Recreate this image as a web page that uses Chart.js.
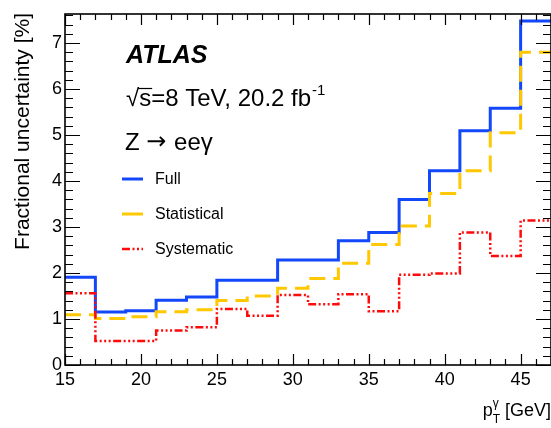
<!DOCTYPE html>
<html>
<head>
<meta charset="utf-8">
<script src="https://cdn.jsdelivr.net/npm/chart.js@4"></script>
<style>
  html, body { margin: 0; padding: 0; background: #fff; }
  canvas { display: block; }
</style>
</head>
<body>
<canvas id="unc" width="551" height="428"></canvas>
<script>
// bin edges of photon pT [GeV] and fractional uncertainties [%] per bin
const binEdges = [15, 17, 19, 21, 23, 25, 27, 29, 31, 33, 35, 37, 39, 41, 43, 45, 47];
const fullUnc = [1.91, 1.15, 1.18, 1.41, 1.48, 1.84, 1.84, 2.28, 2.28, 2.70, 2.88, 3.60, 4.22, 5.09, 5.58, 7.48];
const statUnc = [1.09, 1.01, 1.05, 1.16, 1.20, 1.40, 1.50, 1.67, 1.88, 2.21, 2.62, 3.02, 3.73, 4.22, 5.05, 6.80];
const systUnc = [1.56, 0.52, 0.52, 0.75, 0.82, 1.22, 1.07, 1.52, 1.32, 1.54, 1.17, 1.96, 1.99, 2.88, 2.37, 3.14];
const xTickValues = [15, 20, 25, 30, 35, 40, 45];
const yTickValues = [0, 1, 2, 3, 4, 5, 6, 7];

const FONT = "'Liberation Sans', Arial, 'DejaVu Sans', sans-serif";
const BLUE = 'rgb(18, 72, 250)';
const YELLOW = 'rgb(255, 200, 0)';
const RED = 'rgb(255, 10, 10)';
const RED_DASH = [8, 2.5, 2, 2.5, 2, 2.5, 2, 2.5];

// histogram outline: one point per bin edge, last bin value repeated at the end
function steps(vals) {
    return binEdges.map((x, i) => ({ x: x, y: vals[Math.min(i, vals.length - 1)] }));
}

const atlasDecor = {
    id: 'atlasDecor',
    afterDatasetsDraw(chart) {
        const ctx = chart.ctx;
        const a = chart.chartArea;
        const xs = chart.scales.x, ys = chart.scales.y;
        ctx.save();
        ctx.strokeStyle = '#000';
        ctx.lineWidth = 1.2;
        ctx.setLineDash([]);
        // ticks on all four sides, pointing inwards
        ctx.beginPath();
        for (let v = 15; v <= 47; v += 1) {
            const px = Math.round(xs.getPixelForValue(v)) + 0.5;
            const len = v % 5 === 0 ? 11 : 6;
            ctx.moveTo(px, a.bottom); ctx.lineTo(px, a.bottom - len);
            ctx.moveTo(px, a.top); ctx.lineTo(px, a.top + len);
        }
        for (let i = 0; i <= 38; i++) {
            const v = i * 0.2;
            const py = Math.round(ys.getPixelForValue(v)) + 0.5;
            const len = i % 5 === 0 ? 15 : 8;
            ctx.moveTo(a.left, py); ctx.lineTo(a.left + len, py);
            ctx.moveTo(a.right, py); ctx.lineTo(a.right - len, py);
        }
        ctx.stroke();
        ctx.lineWidth = 1.6;
        ctx.strokeRect(a.left, a.top, a.right - a.left, a.bottom - a.top);

        ctx.fillStyle = '#000';
        ctx.textBaseline = 'alphabetic';
        ctx.textAlign = 'left';
        // ATLAS label
        ctx.font = 'italic bold 25px ' + FONT;
        ctx.fillText('ATLAS', 126, 63);
        // sqrt(s) line
        ctx.font = '24px ' + FONT;
        let x = 126;
        ctx.fillText('\u221A', x, 106);
        x += ctx.measureText('\u221A').width;
        const sw = ctx.measureText('s').width;
        ctx.fillText('s', x, 106);
        ctx.beginPath();
        ctx.lineWidth = 1.2;
        ctx.moveTo(x - 1, 88.5); ctx.lineTo(x + sw + 1, 88.5);
        ctx.stroke();
        x += sw;
        const rest = '=8 TeV, 20.2 fb';
        ctx.fillText(rest, x, 106);
        x += ctx.measureText(rest).width;
        ctx.font = '15px ' + FONT;
        ctx.fillText('-1', x + 1, 95);
        // process label: Z -> ee gamma
        let xz = 125;
        ctx.font = '24px ' + FONT;
        ctx.fillText('Z ', xz, 150);
        xz += ctx.measureText('Z ').width;
        ctx.font = '24px "DejaVu Sans", ' + FONT;
        ctx.fillText('\u2192', xz, 149);
        xz += ctx.measureText('\u2192 ').width;
        ctx.font = '24px ' + FONT;
        ctx.fillText('ee\u03B3', xz, 150);

        // legend
        const items = [
            { label: 'Full', color: BLUE, dash: [], w: 3, y: 179 },
            { label: 'Statistical', color: YELLOW, dash: [], w: 3, y: 214 },
            { label: 'Systematic', color: RED, dash: RED_DASH, w: 2.5, y: 249 }
        ];
        ctx.font = '16px ' + FONT;
        ctx.textBaseline = 'middle';
        items.forEach(it => {
            ctx.beginPath();
            ctx.strokeStyle = it.color;
            ctx.lineWidth = it.w;
            ctx.setLineDash(it.dash);
            ctx.moveTo(122, it.y); ctx.lineTo(143, it.y);
            ctx.stroke();
            ctx.fillStyle = '#000';
            ctx.fillText(it.label, 155, it.y + 1);
        });
        ctx.setLineDash([]);

        // y axis title
        ctx.save();
        ctx.translate(23, 13);
        ctx.rotate(-Math.PI / 2);
        ctx.font = '21px ' + FONT;
        ctx.textAlign = 'right';
        ctx.textBaseline = 'middle';
        ctx.fillText('Fractional uncertainty [%]', 0, 0);
        ctx.restore();

        // x axis title: p_T^gamma [GeV], right aligned
        ctx.textBaseline = 'alphabetic';
        ctx.textAlign = 'left';
        ctx.font = '18px ' + FONT;
        const pw = ctx.measureText('p').width;
        const tail = ' [GeV]';
        const tw = ctx.measureText(tail).width;
        ctx.font = '12px ' + FONT;
        const subw = Math.max(ctx.measureText('T').width, ctx.measureText('\u03B3').width);
        let xt = 551 - (pw + subw + tw);
        ctx.font = '18px ' + FONT;
        ctx.fillText('p', xt, 416);
        ctx.font = '12px ' + FONT;
        ctx.fillText('\u03B3', xt + pw, 407);
        ctx.fillText('T', xt + pw, 423);
        ctx.font = '18px ' + FONT;
        ctx.fillText(tail, xt + pw + subw, 416);
        ctx.restore();
    }
};

new Chart(document.getElementById('unc'), {
    type: 'line',
    data: {
        datasets: [{
            label: 'Full',
            data: steps(fullUnc),
            stepped: 'before',
            borderColor: BLUE,
            borderWidth: 3,
            pointRadius: 0,
            order: 3
        }, {
            label: 'Statistical',
            data: steps(statUnc),
            stepped: 'before',
            borderColor: YELLOW,
            borderWidth: 3,
            borderDash: [16, 8],
            pointRadius: 0,
            order: 2
        }, {
            label: 'Systematic',
            data: steps(systUnc),
            stepped: 'before',
            borderColor: RED,
            borderWidth: 2.5,
            borderDash: RED_DASH,
            pointRadius: 0,
            order: 1
        }]
    },
    options: {
        responsive: false,
        animation: false,
        layout: {
            padding: { top: 14, right: 0, left: 0, bottom: 0 }
        },
        plugins: {
            legend: { display: false },
            tooltip: { enabled: false }
        },
        scales: {
            x: {
                type: 'linear',
                min: 15,
                max: 47,
                border: { display: false },
                grid: { display: false, drawTicks: false, tickLength: 0 },
                afterBuildTicks: s => { s.ticks = xTickValues.map(v => ({ value: v })); },
                afterFit: s => { s.height = 63; },
                ticks: {
                    padding: 4,
                    maxRotation: 0,
                    color: '#000',
                    font: { family: FONT, size: 18 }
                }
            },
            y: {
                min: 0,
                max: 7.63,
                border: { display: false },
                grid: { display: false, drawTicks: false, tickLength: 0 },
                afterBuildTicks: s => { s.ticks = yTickValues.map(v => ({ value: v })); },
                afterFit: s => { s.width = 65; },
                ticks: {
                    padding: 3,
                    color: '#000',
                    font: { family: FONT, size: 18 }
                }
            }
        }
    },
    plugins: [atlasDecor]
});
</script>
</body>
</html>
